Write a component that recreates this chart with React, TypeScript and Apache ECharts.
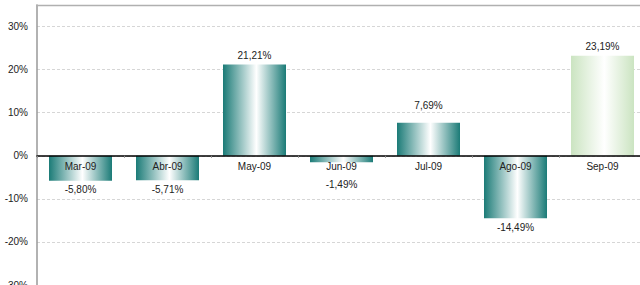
import React, { useEffect, useRef } from "react";
import * as echarts from "echarts";

const categories = ["Mar-09", "Abr-09", "May-09", "Jun-09", "Jul-09", "Ago-09", "Sep-09"];
const values = [-5.8, -5.71, 21.21, -1.49, 7.69, -14.49, 23.19];
const yTicks = [-30, -20, -10, 0, 10, 20, 30];

const fmt = (v: number) => v.toFixed(2).replace(".", ",") + "%";

const Y_MIN = -30;
const Y_MAX = 35;
const GRID_TOP = 5;
const GRID_H = 280;

export default function App() {
  const ref = useRef<HTMLDivElement>(null);
  useEffect(() => {
    if (!ref.current) return;
    const chart = echarts.init(ref.current, undefined, { renderer: "svg" });
    const teal = (c: string) =>
      new echarts.graphic.LinearGradient(0, 0, 1, 0, [
        { offset: 0, color: c },
        { offset: 0.53, color: "#ffffff" },
        { offset: 1, color: c },
      ]);
    const last = categories.length - 1;
    const data = values.map((v, i) => {
      const neg = v < 0;
      let distance = 4;
      if (neg && v > -4) distance = 17;
      if (!neg && v < 10) distance = 12;
      return {
        value: v,
        itemStyle: { color: teal(i === last ? "#cbe4c1" : "#1b7b77") },
        label: {
          show: true,
          position: neg ? "bottom" : "top",
          distance,
          formatter: fmt(v),
          color: "#222",
          fontSize: 10,
          fontFamily: "Liberation Sans, Arial, sans-serif",
        },
      };
    });
    const zeroOffset = -(GRID_H * (0 - Y_MIN)) / (Y_MAX - Y_MIN);
    chart.setOption({
      animation: false,
      grid: {
        left: 37,
        top: GRID_TOP,
        width: 609,
        height: GRID_H,
        containLabel: false,
        outerBoundsMode: "none",
      },
      xAxis: {
        type: "category",
        data: categories,
        position: "bottom",
        offset: zeroOffset,
        axisLine: { onZero: false, lineStyle: { color: "#000", width: 1.5 } },
        axisTick: { show: true, length: 2, lineStyle: { color: "#888" } },
        axisLabel: {
          color: "#222",
          fontSize: 10,
          fontFamily: "Liberation Sans, Arial, sans-serif",
          margin: 6,
        },
        splitLine: { show: false },
        z: 5,
      },
      yAxis: {
        type: "value",
        min: Y_MIN,
        max: Y_MAX,
        interval: 10,
        axisLine: { show: true, lineStyle: { color: "#999", width: 1.5 } },
        axisTick: { show: false },
        axisLabel: {
          color: "#222",
          fontSize: 10,
          fontFamily: "Liberation Sans, Arial, sans-serif",
          margin: 9,
          formatter: (v: number) => (yTicks.includes(v) ? v + "%" : ""),
        },
        splitLine: {
          show: true,
          lineStyle: { color: "#d6d6d6", type: [3, 2], width: 1 },
        },
      },
      graphic: [
        {
          type: "line",
          shape: { x1: 36, y1: 5.5, x2: 640, y2: 5.5 },
          style: { stroke: "#b0b0b0", lineWidth: 1.5 },
          z: 10,
        },
      ],
      series: [
        {
          type: "bar",
          data,
          barWidth: 63,
          itemStyle: { borderWidth: 0 },
        },
      ],
    });
    return () => chart.dispose();
  }, []);
  return (
    <div
      ref={ref}
      style={{ position: "fixed", left: 0, top: 0, width: 640, height: 285, background: "#fff" }}
    />
  );
}
